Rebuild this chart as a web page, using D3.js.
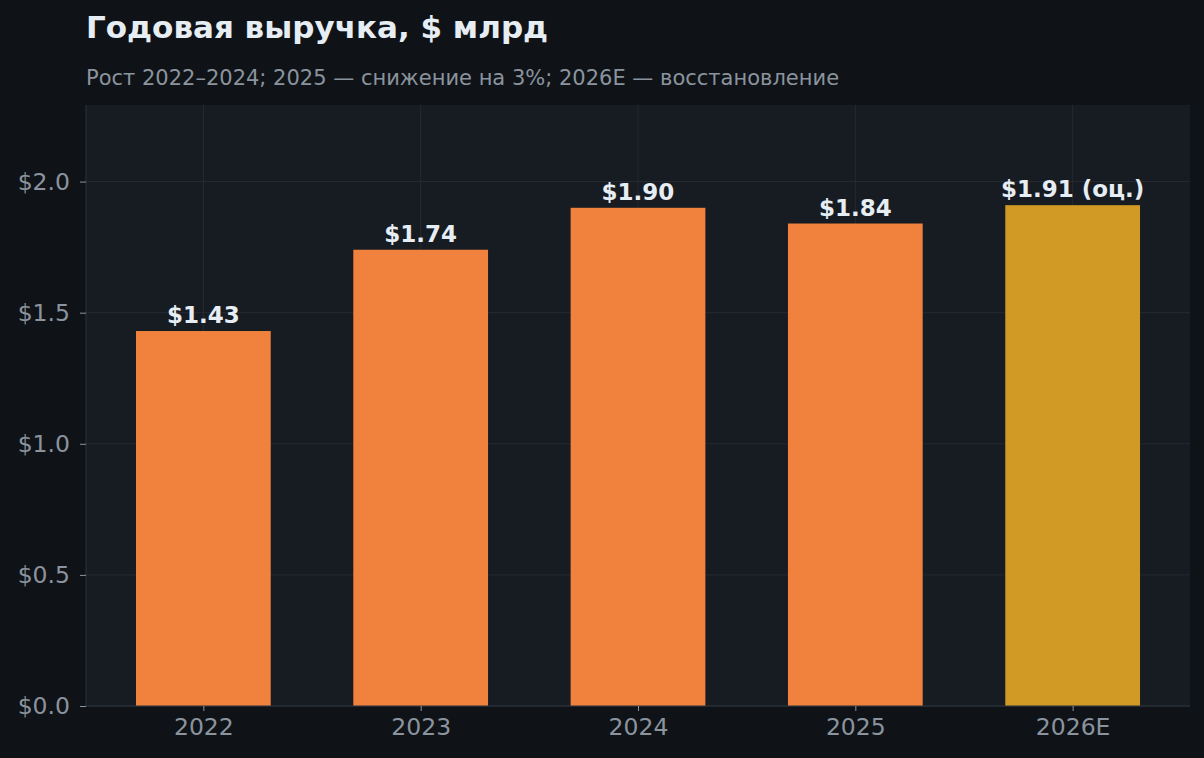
<!DOCTYPE html>
<html><head><meta charset="utf-8">
<script src="https://cdn.jsdelivr.net/npm/d3@7"></script>
<style>
html,body{margin:0;padding:0;background:#0f1317;}
svg{display:block;font-family:"DejaVu Sans",sans-serif;}
</style></head>
<body>
<svg id="chart" width="1204" height="758"></svg>
<script>
const categories = ["2022","2023","2024","2025","2026E"];
const revenue = [1.43, 1.74, 1.90, 1.84, 1.91];
const isEstimate = [false, false, false, false, true];
const valueLabels = ["$1.43","$1.74","$1.90","$1.84","$1.91 (оц.)"];
const yTicks = [0, 0.5, 1.0, 1.5, 2.0];
const title = "Годовая выручка, $ млрд";
const subtitle = "Рост 2022–2024; 2025 — снижение на 3%; 2026E — восстановление";

const W = 1204, H = 758;
const m = {left: 86, right: 14, top: 105, bottom: 52};
const svg = d3.select("#chart");
svg.append("rect").attr("width", W).attr("height", H).attr("fill", "#0f1317");

const x = d3.scaleLinear().domain([-0.54, categories.length - 1 + 0.54]).range([m.left, W - m.right]);
const y = d3.scaleLinear().domain([0, d3.max(revenue) * 1.2]).range([H - m.bottom, m.top]);
const bw = x(0.31) - x(-0.31);

svg.append("rect").attr("x", m.left).attr("y", m.top)
  .attr("width", W - m.right - m.left).attr("height", H - m.bottom - m.top).attr("fill", "#171b22");

// grid
svg.append("g").selectAll("line").data(yTicks).join("line")
  .attr("x1", m.left).attr("x2", W - m.right)
  .attr("y1", d => y(d)).attr("y2", d => y(d))
  .attr("stroke", "#252a33").attr("stroke-width", 1);
svg.append("g").selectAll("line").data(categories).join("line")
  .attr("x1", (d,i) => x(i)).attr("x2", (d,i) => x(i))
  .attr("y1", m.top).attr("y2", H - m.bottom)
  .attr("stroke", "#252a33").attr("stroke-width", 1);

// bars
svg.append("g").selectAll("rect").data(revenue).join("rect")
  .attr("x", (d,i) => x(i) - bw/2).attr("width", bw)
  .attr("y", d => y(d)).attr("height", d => y(0) - y(d))
  .attr("fill", (d,i) => isEstimate[i] ? "#d19a24" : "#f0823e");

// value labels
svg.append("g").selectAll("text").data(revenue).join("text")
  .attr("x", (d,i) => x(i)).attr("y", d => y(d) - 8)
  .attr("text-anchor", "middle").attr("fill", "#e6edf3")
  .attr("font-size", 23).attr("font-weight", "bold")
  .text((d,i) => valueLabels[i]);

// axes
const yAxis = d3.axisLeft(y).tickValues(yTicks).tickSize(6).tickPadding(10).tickFormat(d => "$" + d3.format(".1f")(d));
const gy = svg.append("g").attr("transform", `translate(${m.left},0)`).call(yAxis);
gy.select(".domain").attr("stroke", "#2d333b").attr("d", `M0,${m.top}V${H - m.bottom}`);
gy.selectAll(".tick line").attr("stroke", "#8b949e");
gy.selectAll(".tick text").attr("fill", "#8b949e").attr("font-size", 23.5).attr("font-family", "DejaVu Sans");

const xAxis = d3.axisBottom(x).tickValues(d3.range(categories.length)).tickSize(5).tickPadding(7).tickFormat(i => categories[i]);
const gx = svg.append("g").attr("transform", `translate(0,${H - m.bottom})`).call(xAxis);
gx.select(".domain").attr("stroke", "#2d333b").attr("d", `M${m.left},0H${W - m.right}`);
gx.selectAll(".tick line").attr("stroke", "#8b949e");
gx.selectAll(".tick text").attr("fill", "#8b949e").attr("font-size", 23.5).attr("font-family", "DejaVu Sans");

// titles
svg.append("text").attr("x", 86).attr("y", 38).attr("fill", "#e6edf3")
  .attr("font-size", 31).attr("font-weight", "bold").text(title);
svg.append("text").attr("x", 86).attr("y", 85).attr("fill", "#8b949e")
  .attr("font-size", 21).text(subtitle);
</script>
</body></html>
